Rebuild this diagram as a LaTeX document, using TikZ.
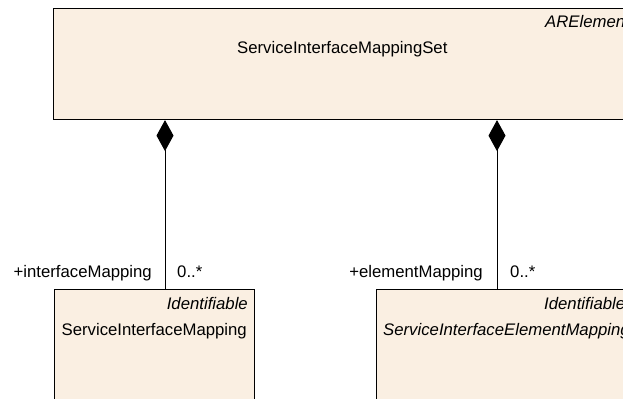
\documentclass[tikz,border=0pt]{standalone}
\usepackage{fontspec}
\setmainfont{Liberation Sans}
\usetikzlibrary{arrows.meta,positioning}

\definecolor{classfill}{RGB}{250,239,226}

\tikzset{
  umlclass/.style={draw, fill=classfill, line width=1.1pt, inner sep=0pt},
  comp/.style={{Diamond[length=31bp,width=17bp]}-, line width=1pt},
  stereo/.style={font=\itshape\fontsize{16.8}{20}\selectfont, inner sep=0pt},
  cname/.style={font=\fontsize{16.8}{20}\selectfont, inner sep=0pt},
  role/.style={font=\fontsize{16.8}{20}\selectfont, inner sep=0pt}
}

\begin{document}
\begin{tikzpicture}[x=1bp, y=-1bp]

\clip (0,0) rectangle (623,398);

% Classes
\node[umlclass, minimum width=610bp, minimum height=111bp, anchor=north west] (set) at (53,8) {};
\node[umlclass, minimum width=200bp, minimum height=130bp, anchor=north west] (ifmap) at (54,289) {};
\node[umlclass, minimum width=280bp, minimum height=130bp, anchor=north west] (elmap) at (376,289) {};

% Class texts
\node[stereo, anchor=base west] (setst) at (545,27) {ARElement};
\node[cname, anchor=base west] (setname) at (237,53) {ServiceInterfaceMappingSet};

\node[stereo, anchor=base east] (ifst) at (248,309) {Identifiable};
\node[cname, anchor=base east] (ifname) at (247,335) {ServiceInterfaceMapping};

\node[stereo, anchor=base west] (elst) at (544,309) {Identifiable};
\node[stereo, anchor=base west] (elname) at (383,335) {ServiceInterfaceElementMapping};

% Compositions
\coordinate (c1) at (165,0);
\coordinate (c2) at (497,0);
\draw[comp] (set.south -| c1) -- (ifmap.north -| c1);
\draw[comp] (set.south -| c2) -- (elmap.north -| c2);

% Role names and multiplicities
\node[role, anchor=base east] (ifrole) at (152,277) {+interfaceMapping};
\node[role, anchor=base west] (ifmult) at (177,277) {0..*};
\node[role, anchor=base east] (elrole) at (483,277) {+elementMapping};
\node[role, anchor=base west] (elmult) at (510,277) {0..*};

\end{tikzpicture}
\end{document}
